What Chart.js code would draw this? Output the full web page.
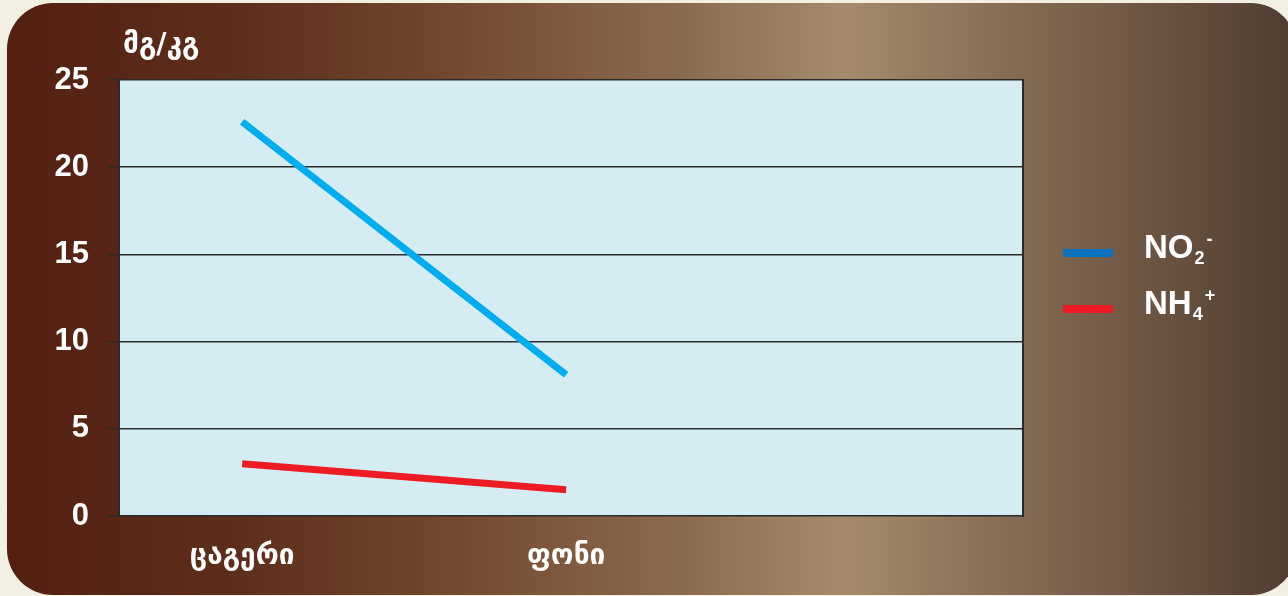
<!DOCTYPE html>
<html>
<head>
<meta charset="utf-8">
<script src="https://cdn.jsdelivr.net/npm/chart.js@4.4.0/dist/chart.umd.min.js"></script>
<style>
  html, body { margin: 0; padding: 0; }
  body { width: 1288px; height: 596px; background: #f2efe3; position: relative; overflow: hidden; }
  #panel {
    position: absolute; left: 7px; top: 3px; width: 1290px; height: 592px;
    border-radius: 46px;
    background: linear-gradient(to right, #531f11 0%, #5e2e1c 18%, #74492f 35%, #8a6a4f 52%, #a58b6c 65%, #8c7257 75%, #6e5644 88%, #4e3c2f 100%);
  }
  #wrap { position: absolute; left: 0; top: 0; width: 1288px; height: 596px; }
  #legend { position: absolute; left: 0; top: 0; }
  .item { position: absolute; color: #fff; font: bold 33px "Liberation Sans", Arial, sans-serif; line-height: 33px; white-space: nowrap; }
  .swatch { position: absolute; width: 50px; height: 8px; }
  .item sub { font-size: 18px; vertical-align: -6px; line-height: 0; margin-left: 1px; }
  .item sup { font-size: 18px; vertical-align: 13px; line-height: 0; margin-left: 2px; }
</style>
</head>
<body>
<div id="panel"></div>
<div id="wrap"><canvas id="chart" width="1288" height="596"></canvas></div>
<div id="legend"></div>
<script>
/* ---------- data ---------- */
const categories = ['ცაგერი', 'ფონი'];
const no2Values = [22.6, 8.1];
const nh4Values = [3.0, 1.5];
const yTicks = [0, 5, 10, 15, 20, 25];
const yTitle = 'მგ/კგ';
const seriesNames = [['NO', '2', '-'], ['NH', '4', '+']];

/* ---------- styles ---------- */
const lineColors = ['#00aeef', '#ed1c24'];
const legendColors = ['#0a71bf', '#ed1c24'];
const gridColor = '#2b2b2b';
const plotBg = '#d5edf2';

function toPoints(values) {
  return values.map((v, i) => ({ x: i, y: v }));
}

// Plot area fill + right border
const plotFrame = {
  id: 'plotFrame',
  beforeDraw(chart) {
    const { ctx, chartArea } = chart;
    ctx.save();
    ctx.fillStyle = plotBg;
    ctx.fillRect(chartArea.left, chartArea.top, chartArea.width, chartArea.height);
    ctx.restore();
  },
  beforeDatasetsDraw(chart) {
    const { ctx, chartArea } = chart;
    ctx.save();
    ctx.strokeStyle = gridColor;
    ctx.lineWidth = 2;
    ctx.beginPath();
    ctx.moveTo(chartArea.right, chartArea.top - 1);
    ctx.lineTo(chartArea.right, chartArea.bottom + 1);
    ctx.stroke();
    ctx.restore();
  }
};

// Unit label above the y axis
const unitLabel = {
  id: 'unitLabel',
  afterDraw(chart) {
    const { ctx, chartArea } = chart;
    ctx.save();
    ctx.font = 'bold 28px "DejaVu Sans", sans-serif';
    ctx.fillStyle = '#ffffff';
    ctx.textAlign = 'left';
    ctx.textBaseline = 'alphabetic';
    ctx.fillText(yTitle, chartArea.left + 4, 53);
    ctx.restore();
  }
};

const ctx = document.getElementById('chart').getContext('2d');
new Chart(ctx, {
  type: 'line',
  data: {
    datasets: [
      {
        label: seriesNames[0].join(''),
        data: toPoints(no2Values),
        borderColor: lineColors[0],
        borderWidth: 7,
        borderCapStyle: 'butt',
        pointRadius: 0,
        tension: 0
      },
      {
        label: seriesNames[1].join(''),
        data: toPoints(nh4Values),
        borderColor: lineColors[1],
        borderWidth: 7,
        borderCapStyle: 'butt',
        pointRadius: 0,
        tension: 0
      }
    ]
  },
  options: {
    responsive: false,
    animation: false,
    layout: { padding: { left: 0, top: 80, right: 265, bottom: 0 } },
    plugins: {
      legend: { display: false },
      tooltip: { enabled: false }
    },
    scales: {
      x: {
        type: 'linear',
        min: -0.38,
        max: 2.41,
        afterBuildTicks: (scale) => {
          scale.ticks = categories.map((c, i) => ({ value: i }));
        },
        afterFit: (scale) => { scale.height = 80; },
        grid: { display: false, drawTicks: false },
        border: { display: false },
        ticks: {
          autoSkip: false,
          maxRotation: 0,
          padding: 24,
          color: '#ffffff',
          font: { family: '"DejaVu Sans", sans-serif', size: 28, weight: 'bold' },
          callback: (value) => categories[value] || ''
        }
      },
      y: {
        min: yTicks[0],
        max: yTicks[yTicks.length - 1],
        afterBuildTicks: (scale) => {
          scale.ticks = yTicks.map(v => ({ value: v }));
        },
        afterFit: (scale) => { scale.width = 119; },
        grid: { color: gridColor, lineWidth: 1.5, tickLength: 11, drawTicks: true },
        border: { display: true, color: gridColor, width: 2 },
        ticks: {
          padding: 19,
          color: '#ffffff',
          font: { family: '"Liberation Sans", Arial, sans-serif', size: 31, weight: 'bold' }
        }
      }
    }
  },
  plugins: [plotFrame, unitLabel]
});

// HTML legend (sub/superscripts)
const legend = document.getElementById('legend');
const legendTops = [249, 305];
seriesNames.forEach((parts, i) => {
  const sw = document.createElement('div');
  sw.className = 'swatch';
  sw.style.left = '1063px';
  sw.style.top = legendTops[i] + 'px';
  sw.style.background = legendColors[i];
  legend.appendChild(sw);

  const it = document.createElement('div');
  it.className = 'item';
  it.style.left = '1144px';
  it.style.top = (legendTops[i] - 19) + 'px';
  it.innerHTML = parts[0] + '<sub>' + parts[1] + '</sub><sup>' + parts[2] + '</sup>';
  legend.appendChild(it);
});
</script>
</body>
</html>
